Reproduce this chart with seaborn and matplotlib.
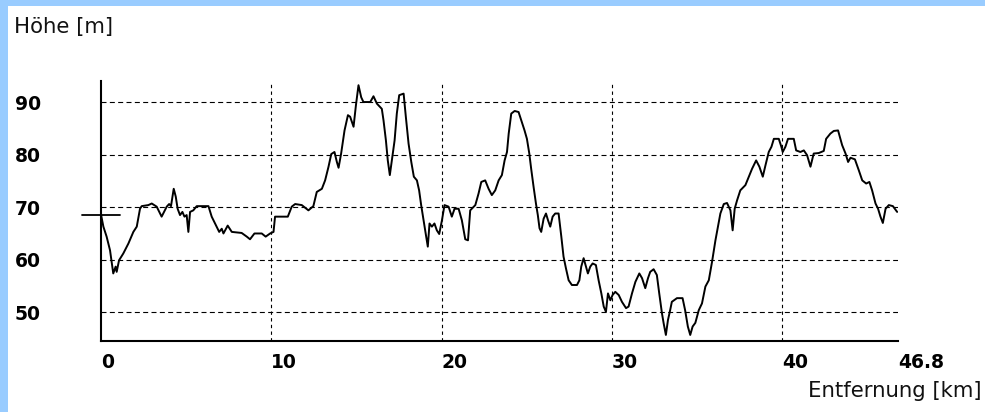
import matplotlib
matplotlib.use("Agg")
import matplotlib.pyplot as plt
from matplotlib.patches import Rectangle
import seaborn as sns

# Elevation profile: distance along the route (km) and height (m)
distance_km = [
    0.00, 0.14, 0.33, 0.53, 0.72, 0.86, 0.92, 1.06, 1.31, 1.61, 1.90, 2.10, 2.29, 2.39,
    2.78, 2.98, 3.27, 3.56, 3.86, 4.00, 4.11, 4.27, 4.39, 4.50, 4.64, 4.78, 4.90, 5.03,
    5.13, 5.23, 5.42, 5.62, 6.31, 6.50, 6.74, 6.94, 7.09, 7.19, 7.44, 7.68, 8.26, 8.56,
    8.75, 9.01, 9.44, 9.67, 9.93, 10.13, 10.22, 10.42, 10.97, 11.20, 11.40, 11.79, 12.18,
    12.47, 12.67, 12.97, 13.16, 13.36, 13.52, 13.71, 13.85, 13.95, 14.10, 14.30, 14.50,
    14.63, 14.83, 14.97, 15.12, 15.28, 15.41, 15.81, 16.00, 16.20, 16.49, 16.59, 16.73,
    16.84, 16.96, 17.08, 17.24, 17.37, 17.51, 17.77, 17.90, 18.06, 18.22, 18.37, 18.55,
    18.68, 18.80, 18.94, 19.08, 19.19, 19.29, 19.43, 19.58, 19.72, 19.86, 20.02, 20.17,
    20.41, 20.60, 20.76, 21.00, 21.19, 21.39, 21.55, 21.68, 21.98, 22.17, 22.33, 22.56,
    22.76, 22.95, 23.15, 23.35, 23.54, 23.70, 23.84, 23.94, 24.09, 24.29, 24.52, 24.68,
    24.87, 25.01, 25.15, 25.26, 25.40, 25.54, 25.65, 25.75, 25.85, 25.99, 26.13, 26.25,
    26.38, 26.52, 26.67, 26.87, 27.03, 27.16, 27.30, 27.46, 27.65, 27.95, 28.09, 28.20,
    28.34, 28.48, 28.59, 28.73, 28.87, 29.06, 29.22, 29.38, 29.52, 29.65, 29.77, 29.91,
    30.04, 30.20, 30.40, 30.59, 30.83, 30.98, 31.18, 31.38, 31.61, 31.77, 31.96, 32.12,
    32.25, 32.45, 32.64, 32.78, 32.94, 33.04, 33.17, 33.29, 33.42, 33.52, 33.82, 34.15,
    34.30, 34.46, 34.60, 34.74, 34.90, 35.10, 35.29, 35.49, 35.69, 35.88, 36.08, 36.23,
    36.37, 36.57, 36.76, 36.96, 37.09, 37.21, 37.35, 37.54, 37.84, 38.04, 38.23, 38.47,
    38.66, 38.86, 39.02, 39.21, 39.37, 39.51, 39.80, 39.95, 40.03, 40.19, 40.34, 40.68,
    40.82, 41.07, 41.27, 41.46, 41.66, 41.85, 42.15, 42.44, 42.58, 42.83, 43.03, 43.28,
    43.52, 43.72, 43.87, 44.01, 44.27, 44.50, 44.70, 44.93, 45.12, 45.28, 45.48, 45.63,
    45.77, 45.91, 46.07, 46.26, 46.50, 46.75,
]
elevation_m = [
    68.6, 66.3, 64.4, 61.8, 57.4, 58.7, 57.7, 59.9, 61.2, 63.1, 65.3, 66.3, 69.7, 70.2,
    70.4, 70.7, 70.1, 68.2, 70.1, 70.6, 70.2, 73.5, 72.0, 69.7, 68.5, 69.1, 68.2, 68.5,
    65.3, 69.1, 69.4, 70.2, 70.2, 68.2, 66.6, 65.3, 65.9, 65.0, 66.5, 65.3, 65.1, 64.4,
    63.9, 65.0, 65.0, 64.4, 65.0, 65.3, 68.2, 68.2, 68.2, 70.1, 70.6, 70.4, 69.4,
    70.2, 72.9, 73.5, 75.1, 77.7, 80.1, 80.5, 78.6, 77.5, 80.2, 84.6, 87.5,
    87.2, 85.3, 89.4, 93.2, 90.9, 90.0, 90.0, 91.1, 89.7, 88.7, 86.5, 82.7,
    78.9, 76.1, 78.9, 82.7, 87.8, 91.3, 91.6, 87.2, 82.1, 78.6, 75.8, 75.1,
    73.2, 70.4, 67.5, 64.7, 62.5, 66.9, 66.3, 66.9, 65.6, 64.9, 67.5, 70.4,
    70.1, 68.2, 69.7, 69.7, 67.5, 63.9, 63.7, 69.4, 70.4, 72.6, 74.8, 75.1,
    73.5, 72.3, 73.2, 75.1, 76.1, 78.9, 80.5, 84.0, 87.8, 88.3, 88.1, 86.5,
    84.6, 83.0, 80.2, 77.3, 73.9, 70.7, 68.5, 66.0, 65.3, 67.8, 68.8, 67.5,
    66.3, 68.2, 68.8, 68.8, 64.4, 60.6, 58.4, 56.1, 55.2, 55.2, 56.1, 58.7,
    60.3, 58.7, 57.4, 58.7, 59.3, 59.0, 56.1, 53.6, 51.1, 50.1, 53.6, 52.3,
    53.3, 53.9, 53.3, 52.0, 50.8, 51.1, 53.6, 55.8, 57.4, 56.5, 54.6, 56.5,
    57.7, 58.2, 57.1, 53.6, 49.8, 47.9, 45.7, 48.5, 50.4, 52.0, 52.7, 52.7,
    50.4, 47.3, 45.7, 47.3, 48.0, 50.4, 51.7, 54.9, 56.1, 59.6, 63.7, 66.3,
    68.8, 70.6, 70.8, 69.4, 65.6, 69.7, 71.3, 73.2, 74.2, 75.8, 77.3, 78.9,
    77.7, 75.8, 78.0, 80.5, 81.5, 83.0, 83.0, 81.5, 80.5, 81.5, 83.0, 83.0,
    80.8, 80.5, 80.8, 79.9, 77.7, 80.2, 80.3, 80.7, 83.0, 84.0, 84.5, 84.6,
    81.8, 80.2, 78.6, 79.4, 79.1, 77.0, 75.1, 74.5, 74.8, 73.2, 70.7, 69.7,
    68.2, 67.0, 69.7, 70.4, 70.2, 69.1,
]

x_ticks = [0, 10, 20, 30, 40, 46.8]
x_tick_labels = ["0", "10", "20", "30", "40", "46.8"]
x_grid = [10, 20, 30, 40]
y_ticks = [50, 60, 70, 80, 90]
y_tick_labels = ["50", "60", "70", "80", "90"]

sns.set_theme(style="white")
plt.rcParams["font.family"] = ["DejaVu Sans"]

W, H = 985, 412
fig = plt.figure(figsize=(W / 100, H / 100), dpi=100)
fig.patch.set_facecolor("white")

# window frame strips
frame_color = "#99CCFF"
fig.add_artist(Rectangle((0, 0), 8 / W, 1, transform=fig.transFigure,
                         facecolor=frame_color, edgecolor="none"))
fig.add_artist(Rectangle((0, 1 - 6 / H), 1, 6 / H, transform=fig.transFigure,
                         facecolor=frame_color, edgecolor="none"))

ax = fig.add_axes([101 / W, 71 / H, 797 / W, 260 / H])
ax.set_facecolor("white")

dash_h = (0, (4.5, 3))
dash_v = (0, (3, 3))
for v in y_ticks:
    ax.axhline(v, color="black", lw=0.8, ls=dash_h, zorder=1)
for v in x_grid:
    ax.axvline(v, color="black", lw=0.8, ls=dash_v, zorder=1)

sns.lineplot(x=distance_km, y=elevation_m, ax=ax, color="black", linewidth=1.4,
             estimator=None, sort=False, zorder=3)

# start-height marker across the y axis
ax.plot([distance_km[0] - 1.1, distance_km[0] + 1.1], [elevation_m[0]] * 2,
        color="black", lw=1.3, clip_on=False, zorder=4)

ax.set_xlim(0, 46.8)
ax.set_ylim(44.55, 94.0)

for side in ("top", "right"):
    ax.spines[side].set_visible(False)
for side in ("left", "bottom"):
    ax.spines[side].set_color("black")
    ax.spines[side].set_linewidth(1.5)

ax.set_xticks(x_ticks)
ax.set_xticklabels(x_tick_labels, fontweight="bold", fontsize=13.5, ha="left")
ax.set_yticks(y_ticks)
ax.set_yticklabels(y_tick_labels, fontweight="bold", fontsize=13.5, ha="left")
ax.tick_params(axis="x", length=0, pad=9, colors="black")
ax.tick_params(axis="y", length=0, pad=62, colors="black")
ax.set_xlabel("")
ax.set_ylabel("")

fig.text(14 / W, 1 - 27 / H, "Höhe [m]", ha="left", va="center",
         fontsize=15.3, color="#111111")
fig.text(982 / W, 1 - 391 / H, "Entfernung [km]", ha="right", va="center",
         fontsize=15.3, color="#111111")

fig.savefig("out.png", dpi=100)
